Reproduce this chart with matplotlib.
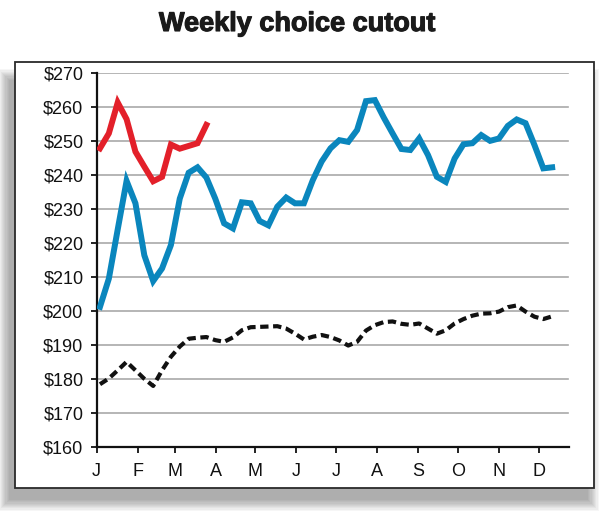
import numpy as np
import matplotlib
matplotlib.use("Agg")
import matplotlib.pyplot as plt
import matplotlib.patheffects as pe
from matplotlib.patches import Rectangle

plt.rcParams['font.family'] = ['Liberation Sans', 'DejaVu Sans']

# weekly cutout values, $/cwt
current_year = [247.9, 252.3, 261.4, 256.5, 246.9, 242.5, 238.2, 239.5, 249.0, 247.8,
                248.6, 249.4, 254.8]

last_year = [201.2, 209.5, 224.0, 238.3, 231.7, 216.4, 208.8, 212.5, 219.4, 233.1,
             240.7, 242.3, 239.3, 233.1, 225.8, 224.3, 232.0, 231.7, 226.5, 225.2,
             230.7, 233.4, 231.7, 231.7, 238.5, 244.0, 247.9, 250.3, 249.8, 253.3,
             261.8, 262.1, 257.0, 252.3, 247.7, 247.4, 250.8, 245.9, 239.5, 238.0,
             244.9, 249.1, 249.4, 251.8, 250.1, 250.8, 254.5, 256.4, 255.3, 248.9,
             242.0, 242.3]

five_yr_avg = [178.4, 180.1, 182.5, 185.0, 182.5, 180.0, 177.9, 182.5, 186.5, 189.5,
               191.8, 192.1, 192.3, 191.4, 190.9, 192.2, 194.3, 195.2, 195.3, 195.4,
               195.5, 194.8, 193.3, 191.6, 192.4, 192.9, 192.3, 191.3, 189.8, 190.9,
               194.2, 195.8, 196.7, 196.9, 196.2, 195.9, 196.3, 194.8, 193.3, 194.3,
               196.3, 197.6, 198.6, 199.2, 199.3, 199.8, 201.1, 201.6, 199.8, 198.3,
               197.6, 198.4]

month_labels = ['J', 'F', 'M', 'A', 'M', 'J', 'J', 'A', 'S', 'O', 'N', 'D']
month_start_days = [0, 31, 59, 90, 120, 151, 181, 212, 243, 273, 304, 334]

# week index -> month position on this chart
week_per_day = 1.322 / 8.86
month_ticks = [d * week_per_day - 0.37 for d in month_start_days]

fig = plt.figure(figsize=(6.1, 5.18), dpi=100)
W, H = 610.0, 518.0

# soft drop shadow behind the frame (down and to the left)
for k in range(10):
    grow = k * 1.2
    fig.patches.append(Rectangle(((15 - 6 - grow) / W, (518 - 488 - 12 - grow) / H),
                                 (579 + 2 * grow) / W, (420 + 2 * grow) / H,
                                 transform=fig.transFigure, facecolor='#000000',
                                 edgecolor='none', alpha=0.035, zorder=0))
fig.patches.append(Rectangle((15 / W, (518 - 488) / H), 579 / W, 426 / H,
                             transform=fig.transFigure, facecolor='white',
                             edgecolor='#2a2a2a', linewidth=1.3, zorder=1))

fig.text(297 / W, 1 - 24 / H, 'Weekly choice cutout', ha='center', va='center',
         fontsize=19.5, fontweight='bold', color='#1a1a1a',
         path_effects=[pe.withStroke(linewidth=0.8, foreground='#1a1a1a')])

ax = fig.add_axes([96.7 / W, (518 - 446.7) / H, (569 - 96.7) / W, (446.7 - 73.3) / H])
ax.set_facecolor('none')
ax.set_zorder(2)

x_last = np.arange(len(last_year))
x_cur = np.arange(len(current_year))
x_avg = np.arange(len(five_yr_avg))

ax.plot(x_avg, five_yr_avg, color='#111111', linewidth=3.0, dashes=(2.0, 1.1),
        solid_capstyle='butt', zorder=3)
ax.plot(x_last, last_year, color='#0a86bd', linewidth=4.3, solid_joinstyle='miter', zorder=4)
ax.plot(x_cur, current_year, color='#e3202a', linewidth=4.3, solid_joinstyle='miter', zorder=5)

ax.set_ylim(160, 270)
ax.set_xlim(-0.37, 52.9)
yt = np.arange(160, 271, 10)
ax.set_yticks(yt)
ax.set_yticklabels(['$%d' % v for v in yt])
ax.set_xticks(month_ticks)
ax.set_xticklabels(month_labels)

for v in yt[1:]:
    ax.axhline(v, xmin=0, xmax=(567.7 - 96.7) / (569 - 96.7), color='#a9a9a9',
               linewidth=1.2, zorder=1)

for s in ['top', 'right']:
    ax.spines[s].set_visible(False)
for s in ['left', 'bottom']:
    ax.spines[s].set_linewidth(1.6)
    ax.spines[s].set_color('#111111')

ax.tick_params(axis='y', length=4.5, width=1.3, pad=5, labelsize=13, colors='#111111')
ax.tick_params(axis='x', length=4.5, width=1.3, pad=7, labelsize=13, colors='#111111')

fig.savefig('out.png', dpi=100, facecolor='white')
